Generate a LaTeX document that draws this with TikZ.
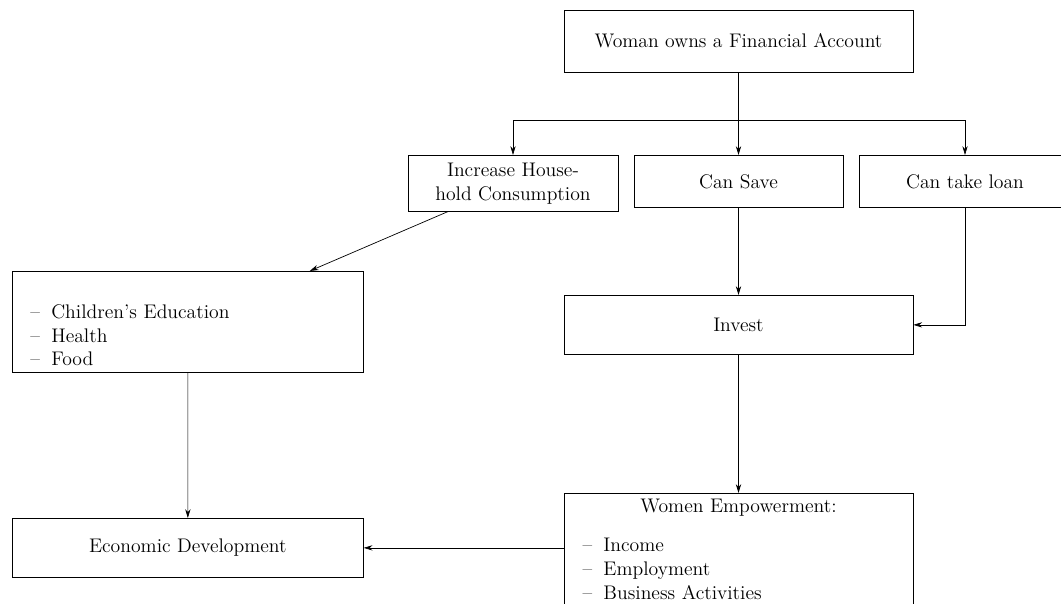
\documentclass[tikz,border=0pt]{standalone}
\usepackage{tikz}
\usetikzlibrary{arrows.meta}
\usetikzlibrary{positioning}

\newcommand{\dashitem}{\makebox[0.42cm][l]{--}}

\begin{document}
\begin{tikzpicture}[>={Stealth[length=5pt,width=3pt]},
    box/.style={draw, rectangle, font=\fontsize{11.2}{13.6}\selectfont}]
    \useasboundingbox (0,0) rectangle (21.22,-12.06);
    % nodes
    \node[box, minimum width=6.98cm, minimum height=1.24cm] (account) at (14.77,-0.82) {Woman owns a Financial Account};
    \node[box, anchor=north, minimum width=4.2cm, minimum height=1.12cm, align=center] (consume) at (10.26,-3.1) {Increase House-\\hold Consumption};
    \node[box, anchor=north, minimum width=4.18cm, minimum height=1.04cm] (save) at (14.77,-3.1) {Can Save};
    \node[box, anchor=north, minimum width=4.24cm, minimum height=1.04cm] (loan) at (19.3,-3.1) {Can take loan};
    \node[box, anchor=north west, inner xsep=0.36cm, text width=6.3cm, minimum height=2.02cm, align=left] (needs) at (0.24,-5.42) {\strut\\ \dashitem Children's Education\\ \dashitem Health\\ \dashitem Food};
    \node[box, anchor=north, minimum width=6.98cm, minimum height=1.18cm] (invest) at (14.77,-5.9) {Invest};
    \node[box, anchor=north west, minimum width=7.02cm, minimum height=1.18cm] (econ) at (0.24,-10.36) {Economic Development};
    \node[box, anchor=north, inner xsep=0.37cm, text width=6.24cm, align=left] (women) at (14.77,-9.86) {\makebox[6.24cm]{Women Empowerment:}\\[0.3cm] \dashitem Income\\ \dashitem Employment\\ \dashitem Business Activities};
    \coordinate (split) at (14.77,-2.4);
    % connectors
    \draw[->] (account) -- (save);
    \draw[->] (split) -| (consume);
    \draw[->] (split) -| (loan);
    \draw[->] ([xshift=0.8cm]consume.south west) -- ([xshift=-1.08cm]needs.north east);
    \draw[->] (needs) -- (econ);
    \draw[->] (save) -- (invest);
    \draw[->] (loan) |- (invest);
    \draw[->] (invest) -- (women);
    \draw[->] (women.west |- econ.east) -- (econ.east);
\end{tikzpicture}
\end{document}
